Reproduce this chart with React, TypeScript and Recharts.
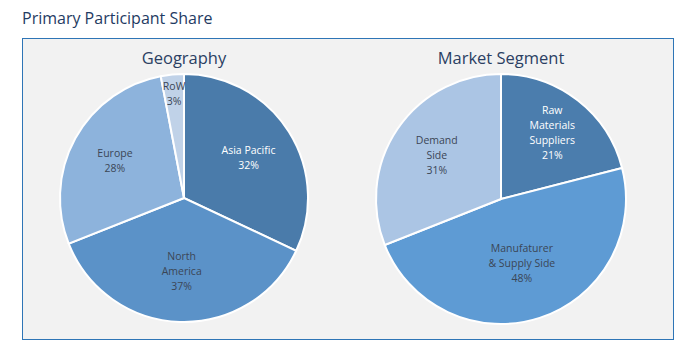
import { PieChart, Pie, Cell } from "recharts";

const geoLabels = [["Asia Pacific"], ["North", "America"], ["Europe"], ["RoW"]];
const geoValues = [32, 37, 28, 3];
const geoColors = ["#4A7BAA", "#5B92C8", "#8DB3DC", "#C0D2E8"];

const segLabels = [["Raw", "Materials", "Suppliers"], ["Manufaturer", "& Supply Side"], ["Demand", "Side"]];
const segValues = [21, 48, 31];
const segColors = ["#4B7DAD", "#5E9BD4", "#ABC5E4"];

const geoData = geoValues.map((v, i) => ({ name: geoLabels[i].join(" "), lines: geoLabels[i], value: v }));
const segData = segValues.map((v, i) => ({ name: segLabels[i].join(" "), lines: segLabels[i], value: v }));

const FONT = "'Open Sans', 'Noto Sans', sans-serif";
const RAD = Math.PI / 180;

function makeLabel(darkIndex: number) {
  return (props: any) => {
    const { cx, cy, midAngle, outerRadius, percent, index, payload } = props;
    // bigger slices pull the label toward the centre, tiny ones sit near the rim
    const ratio = percent < 0.05 ? 0.85 : 0.77 - 0.48 * percent;
    const r = outerRadius * ratio;
    const x = cx + r * Math.cos(-midAngle * RAD);
    const y = cy + r * Math.sin(-midAngle * RAD);
    const lines: string[] = [...payload.lines, `${payload.value}%`];
    const lh = 15;
    const y0 = y - ((lines.length - 1) * lh) / 2;
    return (
      <text
        x={x}
        y={y0}
        textAnchor="middle"
        dominantBaseline="central"
        fontSize={10.5}
        fontFamily={FONT}
        fill={index === darkIndex ? "#FFFFFF" : "#3B4656"}
      >
        {lines.map((l, i) => (
          <tspan key={i} x={x} y={y0 + i * lh}>
            {l}
          </tspan>
        ))}
      </text>
    );
  };
}

export default function App() {
  return (
    <div
      style={{
        position: "absolute",
        left: 0,
        top: 0,
        width: 700,
        height: 355,
        background: "#FFFFFF",
        fontFamily: FONT,
      }}
    >
      <div
        style={{
          position: "absolute",
          left: 22,
          top: 7,
          fontSize: 16,
          color: "#1F3B63",
          whiteSpace: "nowrap",
        }}
      >
        Primary Participant Share
      </div>
      <div
        style={{
          position: "absolute",
          left: 22,
          top: 38,
          width: 652,
          height: 302,
          boxSizing: "border-box",
          background: "#F2F2F2",
          border: "1.5px solid #2E75B6",
        }}
      />
      <div
        style={{
          position: "absolute",
          left: 84,
          width: 200,
          top: 46,
          textAlign: "center",
          fontSize: 16.5,
          color: "#2B3F63",
        }}
      >
        Geography
      </div>
      <div
        style={{
          position: "absolute",
          left: 401,
          width: 200,
          top: 46,
          textAlign: "center",
          fontSize: 16.5,
          color: "#2B3F63",
        }}
      >
        Market Segment
      </div>
      <div style={{ position: "absolute", left: 0, top: 0 }}>
        <PieChart width={700} height={355} margin={{ top: 0, right: 0, bottom: 0, left: 0 }}>
          <Pie
            data={geoData}
            dataKey="value"
            nameKey="name"
            cx={184}
            cy={198}
            outerRadius={124}
            startAngle={90}
            endAngle={-270}
            stroke="#FFFFFF"
            strokeWidth={2}
            labelLine={false}
            label={makeLabel(0)}
            isAnimationActive={false}
          >
            {geoData.map((_, i) => (
              <Cell key={i} fill={geoColors[i]} />
            ))}
          </Pie>
          <Pie
            data={segData}
            dataKey="value"
            nameKey="name"
            cx={501}
            cy={199}
            outerRadius={125}
            startAngle={90}
            endAngle={-270}
            stroke="#FFFFFF"
            strokeWidth={2}
            labelLine={false}
            label={makeLabel(0)}
            isAnimationActive={false}
          >
            {segData.map((_, i) => (
              <Cell key={i} fill={segColors[i]} />
            ))}
          </Pie>
        </PieChart>
      </div>
    </div>
  );
}
